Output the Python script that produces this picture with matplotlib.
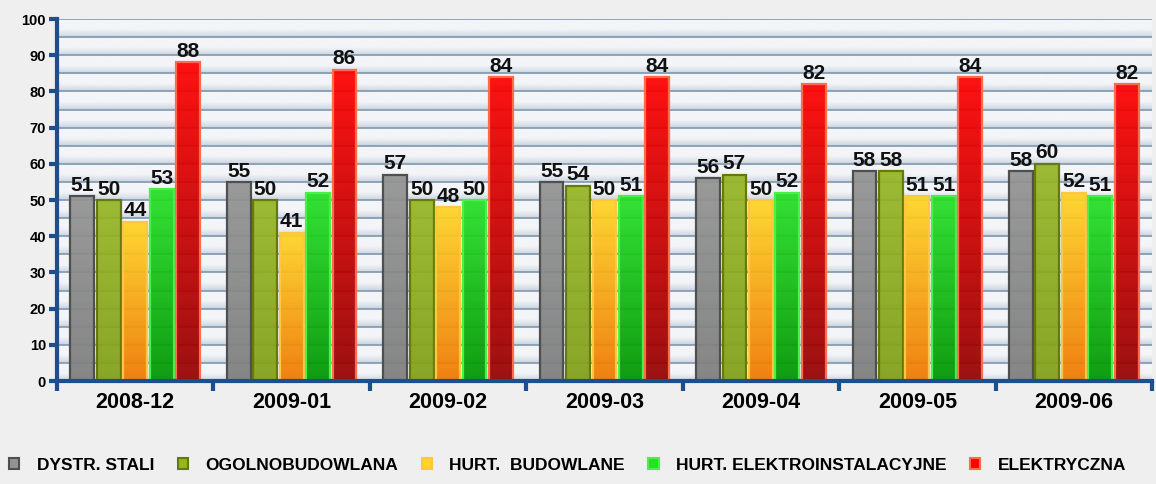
import numpy as np
import matplotlib
matplotlib.use('Agg')
import matplotlib.pyplot as plt
from matplotlib.colors import LinearSegmentedColormap
from matplotlib.patches import Patch

months = ['2008-12', '2009-01', '2009-02', '2009-03', '2009-04', '2009-05', '2009-06']
series_names = ['DYSTR. STALI', 'OGOLNOBUDOWLANA', 'HURT.  BUDOWLANE',
                'HURT. ELEKTROINSTALACYJNE', 'ELEKTRYCZNA']
dystr_stali = [51, 55, 57, 55, 56, 58, 58]
ogolnobudowlana = [50, 50, 50, 54, 57, 58, 60]
hurt_budowlane = [44, 41, 48, 50, 50, 51, 52]
hurt_elektro = [53, 52, 50, 51, 52, 51, 51]
elektryczna = [88, 86, 84, 84, 82, 84, 82]
yticks = list(range(0, 101, 10))

series = [dystr_stali, ogolnobudowlana, hurt_budowlane, hurt_elektro, elektryczna]
# (top colour, bottom colour, edge colour)
styles = [
    ('#939393', '#7e7e7e', '#4f4f4f'),
    ('#97b626', '#82a017', '#667a0c'),
    ('#ffd524', '#f07800', '#ffc640'),
    ('#26e026', '#009600', '#48f048'),
    ('#ff0000', '#960000', '#ff6c4c'),
]

plt.rcParams['font.family'] = ['Liberation Sans', 'DejaVu Sans']
plt.rcParams['font.weight'] = 'bold'

fig = plt.figure(figsize=(11.56, 4.84), dpi=100, facecolor='#efefef')
ax = fig.add_axes([0.0493, 0.2128, 0.9472, 0.7479])
ax.set_facecolor('#f3f5f8')

ymax = 100
# banded background
n = 2000
yy = np.linspace(0, ymax, n)
frac = (yy % 5) / 5.0
t = np.clip(frac / 0.45, 0, 1) ** 0.8
bg_cmap = LinearSegmentedColormap.from_list('bg', ['#c6d0dc', '#f3f5f8'])
ax.imshow(t.reshape(-1, 1), extent=[0, len(months), 0, ymax], origin='lower',
          aspect='auto', cmap=bg_cmap, vmin=0, vmax=1, zorder=0, interpolation='bilinear')
for g in range(5, ymax + 1, 5):
    ax.axhline(g, color='#8097ae', lw=1.2, zorder=1)

x = np.arange(len(months)) + 0.5
pitch = 0.169
width = 0.152
grad = np.linspace(0, 1, 256).reshape(-1, 1)
for j, (vals, (top, bot, edge)) in enumerate(zip(series, styles)):
    bars = ax.bar(x + (j - 2) * pitch, vals, width=width, facecolor='none',
                  edgecolor=edge, linewidth=1.6, zorder=4, label=series_names[j])
    cmap = LinearSegmentedColormap.from_list('c%d' % j, [bot, top])
    for b in bars:
        x0, w, h = b.get_x(), b.get_width(), b.get_height()
        im = ax.imshow(grad, extent=[x0, x0 + w, 0, h], origin='lower', aspect='auto',
                       cmap=cmap, zorder=3, interpolation='bilinear', alpha=0.93)
        im.set_clip_path(b)
    ax.bar_label(bars, labels=[str(v) for v in vals], padding=1, fontsize=15,
                 fontweight='bold', color='#111111', zorder=6)

ax.set_xlim(0, len(months))
ax.set_ylim(0, ymax)

spine_c = '#1c4f8c'
for s in ['top', 'right']:
    ax.spines[s].set_visible(False)
for s in ['left', 'bottom']:
    ax.spines[s].set_color(spine_c)
    ax.spines[s].set_linewidth(3)
    ax.spines[s].set_zorder(7)

ax.set_yticks(yticks)
ax.set_yticklabels([str(v) for v in yticks], fontsize=10.5, fontweight='bold')
ax.tick_params(axis='y', length=6, width=3, color=spine_c, pad=2)
ax.set_xticks(np.arange(len(months) + 1))
ax.set_xticklabels([])
ax.tick_params(axis='x', which='major', length=7, width=3, color=spine_c)
ax.set_xticks(x, minor=True)
ax.set_xticklabels(months, minor=True, fontsize=15.5, fontweight='bold')
ax.tick_params(axis='x', which='minor', length=0, pad=8)

handles = [Patch(facecolor=st[0], edgecolor=st[2], linewidth=1.5) for st in styles]
leg = fig.legend(handles, series_names, loc='lower left', bbox_to_anchor=(-0.002, 0.0),
                 ncol=5, frameon=False, prop={'size': 12.5, 'weight': 'bold'},
                 handlelength=0.6, handleheight=0.6, handletextpad=1.0,
                 columnspacing=1.35, borderaxespad=0.35, borderpad=0.3)

fig.savefig('out.png', dpi=100, facecolor=fig.get_facecolor())
